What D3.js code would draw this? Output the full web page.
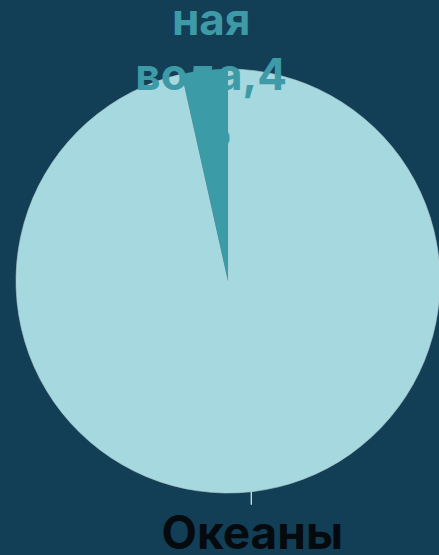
<!DOCTYPE html>
<html><head><meta charset="utf-8">
<script src="https://cdn.jsdelivr.net/npm/d3@7"></script>
<style>html,body{margin:0;padding:0;background:#123f56;overflow:hidden}</style>
</head><body>
<svg id="c" width="439" height="555"></svg>
<script>
const categories = ["Океаны", "Пресная вода"];
const values = [96.5, 3.5];
const labelLines = [["Океаны"], ["Прес", "ная", "вода,4", "%"]];
const colors = ["#a5d8df", "#3b9ba7"];

const W = 439, H = 555, cx = 228, cy = 281, R = 212;
const svg = d3.select("#c");
svg.append("rect").attr("width", W).attr("height", H).attr("fill", "#123f56");

const data = categories.map((c, i) => ({cat: c, value: values[i], lines: labelLines[i], color: colors[i]}));
const pie = d3.pie().sort(null).value(d => d.value);
const arcs = pie(data);
const arc = d3.arc().innerRadius(0).outerRadius(R);
const g = svg.append("g").attr("transform", `translate(${cx},${cy})`);

g.append("path").attr("d", arc(arcs[0])).attr("fill", arcs[0].data.color)
  .attr("stroke", "#b5c8cc").attr("stroke-width", 0.6);

const a0 = (arcs[0].startAngle + arcs[0].endAngle) / 2;
const p1 = [R * Math.sin(a0), -R * Math.cos(a0)];
g.append("line").attr("x1", p1[0]).attr("y1", p1[1]).attr("x2", p1[0]).attr("y2", p1[1] + 13)
  .attr("stroke", "#e8f0f2").attr("stroke-width", 1.2);
g.append("text").attr("x", p1[0] + 1).attr("y", p1[1] + 57).attr("text-anchor", "middle")
  .attr("font-family", "Inter, sans-serif").attr("font-weight", "bold")
  .attr("font-size", 46).attr("fill", "#050a0e").text(arcs[0].data.lines[0]);

const a1 = (arcs[1].startAngle + arcs[1].endAngle) / 2;
const lx = (R - 40) * Math.sin(a1) + 2;
const ft = g.append("text").attr("text-anchor", "middle")
  .attr("font-family", "Inter, sans-serif").attr("font-weight", "bold")
  .attr("font-size", 44).attr("fill", "#3d9aa6");
arcs[1].data.lines.forEach((l, i) => {
  ft.append("tspan").attr("x", lx).attr("y", -cy + 35 + (i - 1) * 55).text(l);
});

g.append("path").attr("d", arc(arcs[1])).attr("fill", arcs[1].data.color);
</script>
</body></html>
